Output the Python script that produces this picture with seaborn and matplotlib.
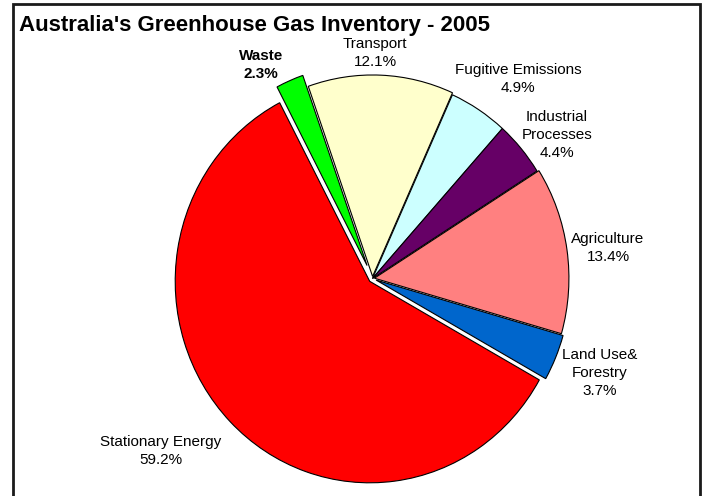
import matplotlib
matplotlib.use("Agg")
import matplotlib.pyplot as plt
from matplotlib.patches import Rectangle
import seaborn as sns

# Australia's greenhouse gas inventory, 2005 (share of net emissions, %)
sectors = ["Transport", "Fugitive Emissions", "Industrial\nProcesses", "Agriculture",
           "Land Use&\nForestry", "Stationary Energy", "Waste"]
shares = [12.1, 4.9, 4.4, 13.4, 3.7, 59.2, 2.3]
colors = ["#FFFFCC", "#CCFFFF", "#660066", "#FF8080", "#0066CC", "#FF0000", "#00FF00"]
explode = [0.01, 0.0, 0.0, 0.01, 0.02, 0.02, 0.07]

# label anchor points in pixels (centre of each text block)
label_px = [(375, 53), (518, 79), (557, 135), (608, 248), (600, 373), (161, 451), (261, 65)]

W, H = 708, 496
sns.set_theme(style="white")
plt.rcParams["font.family"] = ["Liberation Sans", "DejaVu Sans"]

fig = plt.figure(figsize=(W / 100, H / 100), dpi=100)
fig.patch.set_facecolor("white")
ax = fig.add_axes([0, 0, 1, 1])

ax.pie(shares, explode=explode, colors=colors, startangle=109.3, counterclock=False,
       wedgeprops=dict(edgecolor="black", linewidth=0.8))

# pie centre and radii in pixels
cx, cy, rx, ry = 372.5, 278.5, 194.5, 201.5
ax.set_aspect("auto")
ax.set_xlim(-cx / rx, (W - cx) / rx)
ax.set_ylim((cy - H) / ry, cy / ry)
ax.axis("off")

for name, val, (lx, ly) in zip(sectors, shares, label_px):
    bold = name == "Waste"
    fig.text(lx / W, 1 - ly / H, f"{name}\n{val:.1f}%", ha="center", va="center",
             fontsize=11, linespacing=1.4, color="black",
             fontweight="bold" if bold else "normal")

fig.text(19 / W, 1 - 31 / H, "Australia's Greenhouse Gas Inventory - 2005",
         ha="left", va="baseline", fontsize=16, fontweight="bold", color="black")

fig.add_artist(Rectangle((13 / W, -0.02), (700 - 13) / W, 1 - 4 / H + 0.02,
                         transform=fig.transFigure, fill=False, edgecolor="#1a1a1a",
                         linewidth=2))

fig.savefig("out.png", dpi=100, facecolor="white")
